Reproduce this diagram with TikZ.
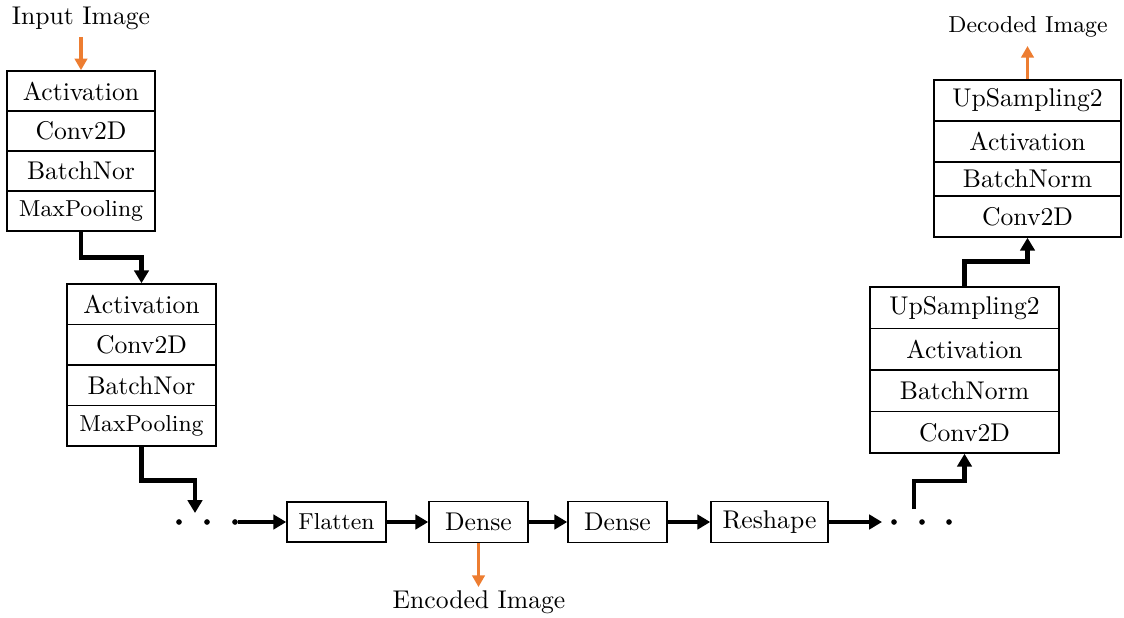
\documentclass[tikz,border=0pt]{standalone}
\usetikzlibrary{arrows.meta}
\definecolor{orng}{HTML}{ED7D31}
\tikzset{
  box/.style 2 args={draw, line width=0.6pt, inner sep=0pt, anchor=center,
    minimum width=#1*0.39pt, minimum height=#2*0.39pt,
    font=\fontsize{10}{12}\selectfont},
  small9/.style={font=\fontsize{9}{11}\selectfont},
  lbl/.style={inner sep=0pt, font=\fontsize{10}{12}\selectfont},
  dotn/.style={circle, fill=black, inner sep=0pt, minimum size=2.2pt},
  karrow/.style={line width=1.8pt, -{Triangle[length=5pt,width=5.6pt]}},
  oarrow/.style={orng, line width=1.3pt, -{Triangle[length=4.5pt,width=4.8pt]}}
}
\begin{document}
\begin{tikzpicture}[x=0.39pt,y=-0.39pt]
\useasboundingbox (0,0) rectangle (1124,617);
% stack 1
\node[box={148}{40}] (a1) at (81,91) {Activation};
\node[box={148}{40}] (a2) at (81,131) {Conv2D};
\node[box={148}{40}] (a3) at (81,171) {BatchNor};
\node[box={148}{40},small9] (a4) at (81,211) {MaxPooling};
% stack 2
\node[box={149}{40.5}] (b1) at (141.5,304.25) {Activation};
\node[box={149}{40.5}] (b2) at (141.5,344.75) {Conv2D};
\node[box={149}{40.5}] (b3) at (141.5,385.25) {BatchNor};
\node[box={149}{40.5},small9] (b4) at (141.5,425.75) {MaxPooling};
% lower right stack
\node[box={189}{41.5}] (c1) at (964.5,307.75) {UpSampling2};
\node[box={189}{41.5}] (c2) at (964.5,349.25) {Activation};
\node[box={189}{41.5}] (c3) at (964.5,390.75) {BatchNorm};
\node[box={189}{41.5}] (c4) at (964.5,432.25) {Conv2D};
% upper right stack
\node[box={187}{41}] (d1) at (1027.5,100.5) {UpSampling2};
\node[box={187}{41}] (d2) at (1027.5,141.5) {Activation};
\node[box={187}{34}] (d3) at (1027.5,179) {BatchNorm};
\node[box={187}{41}] (d4) at (1027.5,216.5) {Conv2D};
% bottom row
\node[box={99}{40},small9] (f) at (336.5,522) {Flatten};
\node[box={99}{41}] (e1) at (478.5,522) {Dense};
\node[box={99}{41}] (e2) at (617.5,522) {Dense};
\node[box={117}{41}] (r) at (769.5,522) {Reshape};
% dots
\node[dotn] (dl1) at (179,522) {};
\node[dotn] (dl2) at (207,522) {};
\node[dotn] (dl3) at (235,522) {};
\node[dotn] (dr1) at (894,522) {};
\node[dotn] (dr2) at (922,522) {};
\node[dotn] (dr3) at (949,522) {};
% labels
\node[lbl] (inlbl) at (81,18) {Input Image};
\node[lbl,small9] (outlbl) at (1028,27) {Decoded Image};
\node[lbl] (enclbl) at (479,602) {Encoded Image};
% helper coordinates
\coordinate (inp) at (81,37);
\coordinate (outtip) at (1027.5,46);
\coordinate (enctip) at (478.5,587);
\coordinate (dtop) at (195,513);
\coordinate (rtip) at (882,522);
\coordinate (rstart) at (914,509);
% orange arrows
\draw[oarrow] (inp) -- (a1.north);
\draw[oarrow] (d1.north) -- (outtip);
\draw[oarrow] (e1.south) -- (enctip);
% black connectors
\draw[karrow] (a4.south) -- ++(0,26) -| (b1.north);
\draw[karrow] (b4.south) -- ++(0,34) -| (dtop);
\draw[karrow] (dl3.east) -- (f.west);
\draw[karrow] (f.east) -- (e1.west);
\draw[karrow] (e1.east) -- (e2.west);
\draw[karrow] (e2.east) -- (r.west);
\draw[karrow] (r.east) -- (rtip);
\draw[karrow] (rstart) -- ++(0,-28) -| (c4.south);
\draw[karrow] (c1.north) -- ++(0,-25) -| (d4.south);
\end{tikzpicture}
\end{document}
